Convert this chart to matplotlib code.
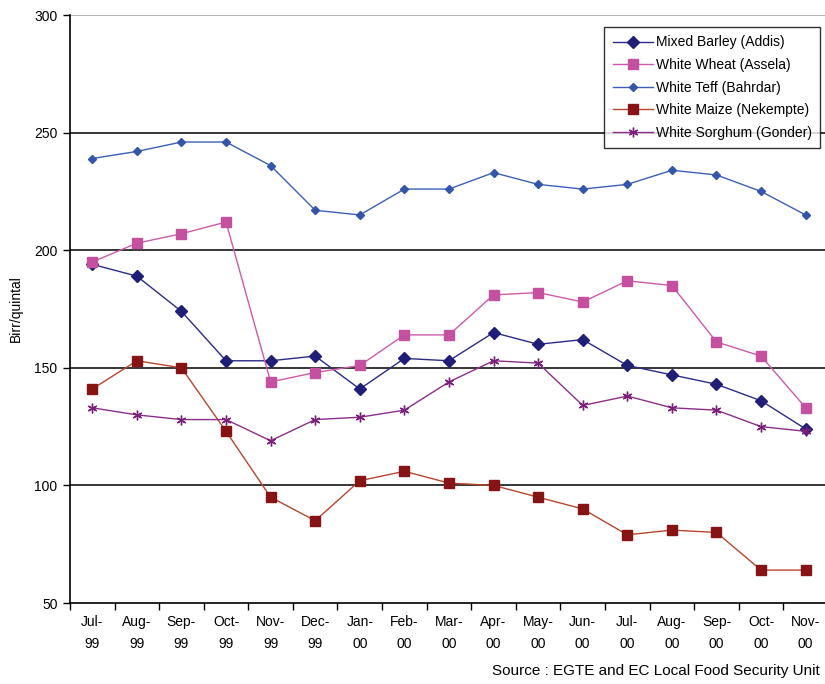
import matplotlib
matplotlib.use("Agg")
import matplotlib.pyplot as plt
from matplotlib.ticker import FixedLocator

plt.rcParams['font.family'] = ['Liberation Sans', 'DejaVu Sans']

months = ["Jul-\n99", "Aug-\n99", "Sep-\n99", "Oct-\n99", "Nov-\n99", "Dec-\n99",
          "Jan-\n00", "Feb-\n00", "Mar-\n00", "Apr-\n00", "May-\n00", "Jun-\n00",
          "Jul-\n00", "Aug-\n00", "Sep-\n00", "Oct-\n00", "Nov-\n00"]

barley_addis = [194, 189, 174, 153, 153, 155, 141, 154, 153, 165, 160, 162, 151, 147, 143, 136, 124]
wheat_assela = [195, 203, 207, 212, 144, 148, 151, 164, 164, 181, 182, 178, 187, 185, 161, 155, 133]
teff_bahrdar = [239, 242, 246, 246, 236, 217, 215, 226, 226, 233, 228, 226, 228, 234, 232, 225, 215]
maize_nekempte = [141, 153, 150, 123, 95, 85, 102, 106, 101, 100, 95, 90, 79, 81, 80, 64, 64]
sorghum_gonder = [133, 130, 128, 128, 119, 128, 129, 132, 144, 153, 152, 134, 138, 133, 132, 125, 123]

y_ticks = [50, 100, 150, 200, 250, 300]

fig = plt.figure(figsize=(8.25, 6.84), dpi=100)
ax = fig.add_axes([0.0848, 0.1184, 0.9188, 0.8596])

x = list(range(len(months)))

# horizontal reference lines
for v in y_ticks[1:-1]:
    ax.axhline(v, color="black", lw=1.1, zorder=1)
ax.axhline(300, color="#a0a0a0", lw=1.1, zorder=1)

series = [
    ("Mixed Barley (Addis)", barley_addis, "#2a2a88", "#1f1f78", "D", 6.5),
    ("White Wheat (Assela)", wheat_assela, "#cc5aaa", "#c4509f", "s", 7.5),
    ("White Teff (Bahrdar)", teff_bahrdar, "#3b5fb5", "#3355aa", "D", 3.8),
    ("White Maize (Nekempte)", maize_nekempte, "#b8452e", "#861414", "s", 6.5),
    ("White Sorghum (Gonder)", sorghum_gonder, "#8a2e8a", "#7a1f7a", (6, 2, 0), 7),
]

for label, vals, lc, mc, mk, ms in series:
    ax.plot(x, vals, color=lc, lw=1.0, marker=mk, markersize=ms,
            markerfacecolor=mc, markeredgecolor=mc, markeredgewidth=1.0,
            label=label, zorder=3)

ax.set_xlim(-0.5, len(months) - 0.5)
ax.set_ylim(50, 300)

ax.set_yticks(y_ticks)
ax.tick_params(axis="y", direction="out", length=5, width=1, labelsize=10, pad=4)

ax.set_xticks(x)
ax.set_xticklabels(months, fontsize=10, linespacing=1.75)
ax.tick_params(axis="x", which="major", length=0, pad=8.5)
ax.xaxis.set_minor_locator(FixedLocator([i + 0.5 for i in range(-1, len(months))]))
ax.tick_params(axis="x", which="minor", direction="out", length=5, width=1)

for side in ["top", "right"]:
    ax.spines[side].set_visible(False)
ax.spines["left"].set_linewidth(1.2)
ax.spines["bottom"].set_linewidth(1.2)

ax.set_ylabel("Birr/quintal", fontsize=10, labelpad=8)

leg = ax.legend(loc="upper right", bbox_to_anchor=(0.9894, 0.9796), fontsize=10,
                frameon=True, fancybox=False, handlelength=2.9, handletextpad=0.2,
                labelspacing=0.62, borderpad=0.6, borderaxespad=0)
leg.get_frame().set_edgecolor("black")
leg.get_frame().set_linewidth(1.0)
leg.get_frame().set_facecolor("white")
leg.set_zorder(5)

fig.text(0.994, 0.009, "Source : EGTE and EC Local Food Security Unit",
         ha="right", va="bottom", fontsize=11)

fig.savefig("out.png", dpi=100)
